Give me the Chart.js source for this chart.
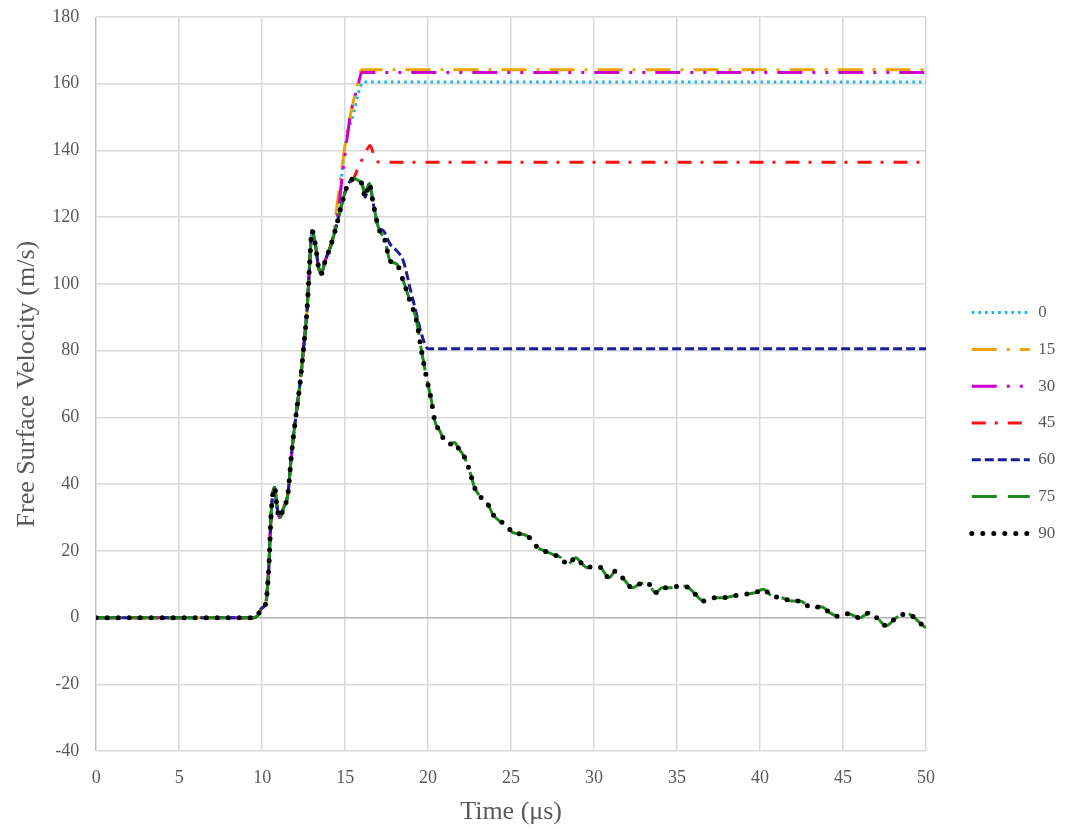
<!DOCTYPE html>
<html>
<head>
<meta charset="utf-8">
<script src="https://cdn.jsdelivr.net/npm/chart.js@4"></script>
<style>
  html, body { margin: 0; padding: 0; background: #fff; }
  #wrap { width: 1065px; height: 829px; }
</style>
</head>
<body>
<div id="wrap"><canvas id="grafico"></canvas></div>
<script>
// curva común (75 y 90 la siguen entera)
const baseTime = [0, 9.5, 9.7, 10.0, 10.2, 10.4, 10.55, 10.75, 10.9, 11.05, 11.3, 11.55, 11.75, 11.9, 12.1, 12.3, 12.5, 12.7, 12.85, 13.0,
  13.2, 13.4, 13.55, 13.8, 14.1, 14.5, 14.8, 15.1, 15.5, 15.8, 16.05, 16.2, 16.45, 16.7, 17.0, 17.4, 17.7, 18.1, 18.5, 18.9,
  19.3, 19.6, 19.9, 20.2, 20.4, 20.7, 21.0, 21.3, 21.6, 21.8, 22.2, 22.5, 22.8, 23.2, 23.6, 23.9, 24.3, 24.7, 25.1, 25.7,
  26.1, 26.6, 27.0, 27.5, 28.0, 28.4, 28.9, 29.3, 29.6, 30.0, 30.4, 30.9, 31.3, 31.8, 32.3, 32.7, 33.2, 33.7, 34.1, 34.6,
  35.2, 35.7, 36.1, 36.6, 37.2, 37.8, 38.4, 39.0, 39.7, 40.2, 40.7, 41.3, 41.9, 42.4, 43.1, 43.7, 44.2, 44.8, 45.3, 46.0,
  46.6, 47.1, 47.6, 48.2, 48.9, 49.3, 49.9, 50];
const baseVel = [0, 0, 0.5, 3, 4, 15, 32, 39, 33, 30, 33, 37, 48, 55, 63, 71, 81, 92, 105, 116,
  112, 105, 103, 107, 111, 118, 124, 129, 131.5, 131, 129.5, 126, 130, 124, 117, 113, 107, 106, 101, 95,
  89, 80, 72, 65, 59, 56, 53, 52, 52.5, 51, 48, 44, 39, 36, 34, 31, 29, 28, 25.5, 25,
  24, 21, 20, 19, 18, 16, 18, 16, 15, 15.5, 15, 12, 14, 11.5, 9, 10, 10.5, 7.5, 9, 9,
  9.5, 9, 7, 5, 6, 6, 6.5, 7, 7.5, 8.5, 6.5, 6, 5, 5, 3, 3.3, 1.5, 0.3, 1.2, 0,
  1.5, -0.3, -2.4, 0, 1.2, 0, -2.7, -3];

// tramos donde cada ángulo se separa de la curva común
const tail0Time = [14.6, 14.9, 15.5, 16.1, 50];
const tail0Vel = [121, 138, 151, 160.5, 160.5];
const tail15Time = [14.2, 14.6, 15.1, 15.7, 16.0, 50];
const tail15Vel = [112, 127, 145, 159, 164.2, 164.2];
const tail30Time = [14.5, 14.8, 15.3, 15.8, 16.0, 50];
const tail30Vel = [119, 131, 150, 160, 163.4, 163.4];
const tail45Time = [15.8, 16.2, 16.5, 16.8, 17.1, 50];
const tail45Vel = [135, 139, 141.5, 137.5, 136.5, 136.5];
const tail60Time = [17.3, 17.7, 18.1, 18.5, 18.9, 19.3, 19.6, 20.0, 50];
const tail60Vel = [116, 112, 110, 107, 99, 91, 85, 80.6, 80.6];

const angulos = ['0', '15', '30', '45', '60', '75', '90'];
const xTicks = [0, 5, 10, 15, 20, 25, 30, 35, 40, 45, 50];
const yTicks = [-40, -20, 0, 20, 40, 60, 80, 100, 120, 140, 160, 180];

function serie(tTime, tVel) {
  const corte = tTime.length ? tTime[0] : Infinity;
  const pts = [];
  baseTime.forEach((t, i) => { if (t < corte) pts.push({ x: t, y: baseVel[i] }); });
  tTime.forEach((t, i) => pts.push({ x: t, y: tVel[i] }));
  return pts;
}

const tails = [
  [tail0Time, tail0Vel], [tail15Time, tail15Vel], [tail30Time, tail30Vel],
  [tail45Time, tail45Vel], [tail60Time, tail60Vel], [[], []], [[], []]
];

const estilos = [
  { color: '#1fb4e6', dash: [2.6, 4], width: 3, cap: 'butt' },
  { color: '#eea400', dash: [25, 10, 3, 10], width: 3, cap: 'butt' },
  { color: '#cc00cc', dash: [25, 10, 3, 10, 3, 10], width: 3, cap: 'butt' },
  { color: '#ff1010', dash: [14, 9, 3, 10], width: 3, cap: 'butt' },
  { color: '#1a1f99', dash: [9, 4], width: 3, cap: 'butt' },
  { color: '#1e8a1e', dash: [25, 11], width: 3, cap: 'butt' },
  { color: '#000000', dash: [0, 11], width: 5, cap: 'round' }
];

const GRIS = '#595959';
const FUENTE = "'Liberation Serif', 'Times New Roman', serif";

const datasets = angulos.map((a, i) => ({
  label: a,
  data: serie(tails[i][0], tails[i][1]),
  borderColor: estilos[i].color,
  backgroundColor: estilos[i].color,
  borderWidth: estilos[i].width,
  borderDash: estilos[i].dash,
  borderCapStyle: estilos[i].cap,
  pointRadius: 0,
  pointHoverRadius: 0,
  cubicInterpolationMode: 'monotone',
  fill: false,
  order: angulos.length - 1 - i
}));

// la leyenda queda algo más a la derecha que donde la deja Chart.js
const moverLeyenda = {
  id: 'moverLeyenda',
  afterLayout(chart) {
    if (!chart.legend) return;
    chart.legend.left += 26;
    chart.legend.right += 26;
  }
};

new Chart(document.getElementById('grafico'), {
  type: 'line',
  data: { datasets: datasets },
  plugins: [moverLeyenda],
  options: {
    responsive: true,
    maintainAspectRatio: false,
    animation: false,
    layout: { padding: { left: 12, top: 17, right: 9, bottom: 0 } },
    scales: {
      x: {
        type: 'linear',
        min: 0, max: 50,
        afterFit: s => { s.paddingRight = 139; },
        afterBuildTicks: s => { s.ticks = xTicks.map(v => ({ value: v })); },
        ticks: { color: GRIS, font: { family: FUENTE, size: 18 }, padding: 16, maxRotation: 0 },
        grid: {
          color: c => c.tick && c.tick.value === 0 ? '#bfbfbf' : '#d9d9d9',
          lineWidth: 1.5,
          drawTicks: false
        },
        border: { display: false },
        title: { display: true, text: 'Time (μs)', color: GRIS, font: { family: FUENTE, size: 26 }, padding: { top: -8, bottom: 1 } }
      },
      y: {
        min: -40, max: 180,
        afterFit: s => { s.paddingTop = 0; },
        afterBuildTicks: s => { s.ticks = yTicks.map(v => ({ value: v })); },
        ticks: { color: GRIS, font: { family: FUENTE, size: 18 }, padding: 17 },
        grid: {
          color: c => c.tick && c.tick.value === 0 ? '#b3b3b3' : '#d9d9d9',
          lineWidth: 1.5,
          drawTicks: false
        },
        border: { display: false },
        title: { display: true, text: 'Free Surface Velocity (m/s)', color: GRIS, font: { family: FUENTE, size: 26 }, padding: { top: 0, bottom: -8 } }
      }
    },
    plugins: {
      legend: {
        position: 'right',
        labels: {
          usePointStyle: true,
          pointStyle: 'line',
          pointStyleWidth: 58,
          boxHeight: 17,
          padding: 19.8,
          color: GRIS,
          font: { family: FUENTE, size: 17 },
          // muestra de línea con el mismo trazo de cada serie
          generateLabels: chart => chart.data.datasets.map((ds, i) => ({
            text: ds.label,
            datasetIndex: i,
            fillStyle: ds.borderColor,
            strokeStyle: ds.borderColor,
            fontColor: GRIS,
            lineWidth: ds.borderWidth,
            lineDash: ds.borderDash,
            lineCap: ds.borderCapStyle,
            pointStyle: 'line',
            hidden: false
          }))
        }
      },
      tooltip: { enabled: false }
    }
  }
});
</script>
</body>
</html>
